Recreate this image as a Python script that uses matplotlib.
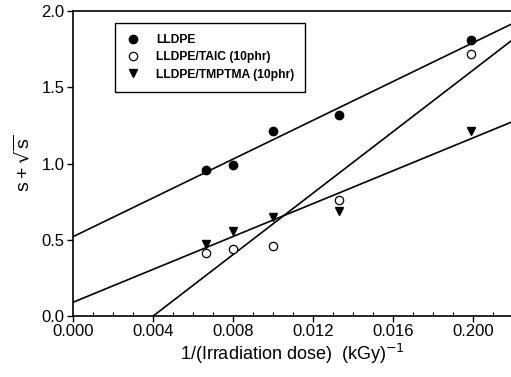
import numpy as np
import matplotlib.pyplot as plt
from matplotlib.ticker import FixedLocator, MultipleLocator

plt.rcParams['font.family'] = ['Liberation Sans', 'DejaVu Sans']

# data
inv_dose = [0.00665, 0.00800, 0.01000, 0.01330, 0.01990]
lldpe = [0.96, 0.99, 1.21, 1.32, 1.81]
lldpe_taic = [0.41, 0.44, 0.46, 0.76, 1.72]
lldpe_tmptma = [0.47, 0.56, 0.65, 0.69, 1.21]

# fitted straight lines (intercept, slope)
fit_lldpe = [0.52, 63.6]
fit_taic = [-0.404, 100.8]
fit_tmptma = [0.09, 53.9]

xtick_vals = [0.000, 0.004, 0.008, 0.012, 0.016, 0.020]
xtick_labels = ['0.000', '0.004', '0.008', '0.012', '0.016', '0.200']
ytick_vals = [0.0, 0.5, 1.0, 1.5, 2.0]

fig = plt.figure(figsize=(5.11, 3.77), dpi=100)
ax = fig.add_axes([0.1429, 0.1618, 0.8571, 0.809])

xx = np.array([0.0, 0.03])
for b0, b1 in (fit_lldpe, fit_taic, fit_tmptma):
    ax.plot(xx, b0 + b1 * xx, color='black', lw=1.2, zorder=2)

ax.plot(inv_dose, lldpe, 'o', color='black', ms=6, ls='none', label='LLDPE', zorder=3)
ax.plot(inv_dose, lldpe_taic, 'o', mfc='white', mec='black', mew=0.9, ms=6, ls='none',
        label='LLDPE/TAIC (10phr)', zorder=3)
ax.plot(inv_dose, lldpe_tmptma, 'v', color='black', ms=6, ls='none',
        label='LLDPE/TMPTMA (10phr)', zorder=3)

ax.set_xlim(0, 0.0219)
ax.set_ylim(0, 2.0)
ax.xaxis.set_major_locator(FixedLocator(xtick_vals))
ax.set_xticks(xtick_vals)
ax.set_xticklabels(xtick_labels)
ax.xaxis.set_minor_locator(MultipleLocator(0.001))
ax.set_yticks(ytick_vals)
ax.set_yticklabels(['0.0', '0.5', '1.0', '1.5', '2.0'])
ax.tick_params(axis='both', which='major', direction='out', length=4, width=1,
               labelsize=12, pad=2)
ax.tick_params(axis='x', which='minor', direction='in', length=3, width=0.8)
ax.spines['right'].set_visible(False)
for s in ('left', 'bottom', 'top'):
    ax.spines[s].set_linewidth(1.2)

ax.set_xlabel(r'1/(Irradiation dose)  (kGy)$^{-1}$', fontsize=13, labelpad=2)
ax.set_ylabel(r'$\mathregular{s+\sqrt{s}}$', fontsize=14, labelpad=6)

leg = ax.legend(loc='upper left', bbox_to_anchor=(0.096, 0.961), frameon=True,
                fancybox=False, edgecolor='black', framealpha=1,
                prop={'size': 8.7, 'weight': 'bold'}, handlelength=1.2,
                handletextpad=1.3, labelspacing=0.45, borderpad=0.9,
                borderaxespad=0)
leg.get_frame().set_linewidth(1.0)

fig.savefig('out.png', dpi=100)
